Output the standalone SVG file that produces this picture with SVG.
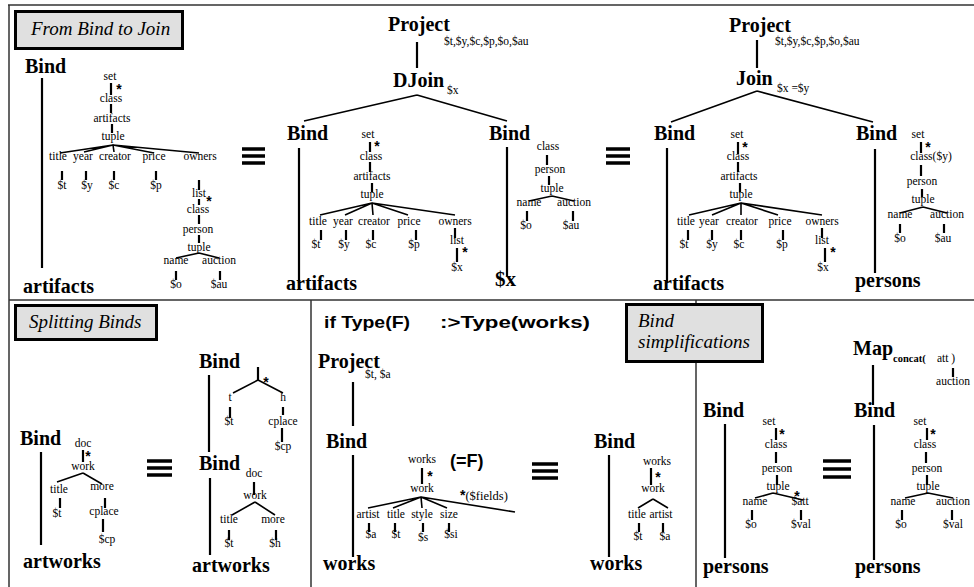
<svg xmlns="http://www.w3.org/2000/svg" width="974" height="587" viewBox="0 0 974 587">
<style>
.op{font-family:"Liberation Serif",serif;font-weight:bold;font-size:20px;fill:#000}
.t{font-family:"Liberation Serif",serif;font-size:11.5px;text-anchor:middle;fill:#000}
.p{font-family:"Liberation Serif",serif;font-size:11.5px;fill:#000}
.st{font-family:"Liberation Sans",sans-serif;font-weight:bold;font-size:14px;text-anchor:middle}
.hd{font-family:"Liberation Serif",serif;font-style:italic;font-size:19px;fill:#000}
.sb{font-family:"Liberation Sans",sans-serif;font-weight:bold;font-size:17px;fill:#000}
.box{fill:#e0e0e0;stroke:#000;stroke-width:3}
.fr{stroke:#333;stroke-width:1.5;fill:none}
.v{stroke:#000;stroke-width:2.2;fill:none}
.s{stroke:#000;stroke-width:1.6;fill:none}
.eq{stroke:#000;stroke-width:3.5}
</style>
<rect width="974" height="587" fill="#fff"/>
<g id="frame">
<path class="fr" d="M8 5H974M9 5V587M9 300H974M311 300V587M696 300V587"/>
</g>
<g id="connectors">
<path class="v" d="M42 78V268"/>
<path class="v" d="M111 83V95M111 104V113M112 124V133"/>
<path class="s" d="M113 145L60 153M113 145L84 152M113 145L114 152M113 145L154 153M113 145L199 153"/>
<path class="v" d="M62 171V180M86 171V180M114 171V180M156 171V180M199 180V190M199 199V205M199 215V224M199 235V243"/>
<path class="s" d="M199 253L176 258M199 253L219 258"/>
<path class="v" d="M176 271V280M220 271V280"/>
<path class="v" d="M417 42V68"/>
<path class="s" d="M417 95L304 121M417 95L507 121"/>
<path class="v" d="M299 148V283M507 147V276"/>
<path class="v" d="M370 142V152M370 162V172M372 183V192"/>
<path class="s" d="M372 203L320 215M372 203L345 215M372 203L373 215M372 203L408 215M372 203L455 215"/>
<path class="v" d="M321 230V240M346 230V240M373 230V240M416 230V240M455 228V238M457 248V262"/>
<path class="v" d="M547 155V165M549 176V185"/>
<path class="s" d="M552 196L529 201M552 196L574 201"/>
<path class="v" d="M527 211V221M573 211V221"/>
<path class="v" d="M757 40V68"/>
<path class="s" d="M757 91L671 122M757 91L873 122"/>
<path class="v" d="M667 148V283M875 149V273"/>
<path class="v" d="M738 142V154M738 162V172M740 183V192"/>
<path class="s" d="M741 203L689 215M741 203L712 215M741 203L741 215M741 203L778 215M741 203L822 215"/>
<path class="v" d="M688 230V240M712 230V240M741 230V240M783 230V240M822 228V238M825 248V262"/>
<path class="v" d="M921 142V153M921 165V176M922 189V197"/>
<path class="s" d="M923 207L900 213M923 207L947 213"/>
<path class="v" d="M900 224V233M944 224V233"/>
<path class="v" d="M41 452V545"/>
<path class="v" d="M83 450V462"/>
<path class="s" d="M83 473L57 482M83 473L102 484"/>
<path class="v" d="M60 498V508M105 498V508M103 519V532"/>
<path class="v" d="M209 375V452M258 367V380"/>
<path class="s" d="M258 380L233 393M258 380L283 393"/>
<path class="v" d="M230 407V418M283 407V415M282 428V442"/>
<path class="v" d="M210 478V555M254 482V495"/>
<path class="s" d="M255 502L232 515M255 502L275 515"/>
<path class="v" d="M229 530V540M276 530V540"/>
<path class="v" d="M353 382V426M353 455V557M422 468V484"/>
<path class="s" d="M421 497L368 508M421 497L393 508M421 497L422 508M421 497L447 508M421 497L515 512"/>
<path class="v" d="M369 523V532M395 523V532M423 523V532M449 523V532"/>
<path class="v" d="M609 455V557M651 468V485"/>
<path class="s" d="M653 499L638 508M653 499L668 508"/>
<path class="v" d="M639 523V532M663 523V532"/>
<path class="v" d="M725 424V558M776 428V440M776 452V463M777 475V485"/>
<path class="s" d="M773 493L755 498M773 493L803 500"/>
<path class="v" d="M752 510V520M801 510V520"/>
<path class="v" d="M873 365V405M953 368V377M874 425V560M927 428V440M926 452V463M927 475V485"/>
<path class="s" d="M928 493L905 498M928 493L953 498"/>
<path class="v" d="M902 510V520M952 510V520"/>
</g>
<g id="equiv">
<path class="eq" d="M242 149H265M242 156H265M242 163H265"/>
<path class="eq" d="M606 149H630M606 156H630M606 163H630"/>
<path class="eq" d="M147 461H172M147 468H172M147 475H172"/>
<path class="eq" d="M532 464H558M532 471H558M532 478H558"/>
<path class="eq" d="M823 461H851M823 469H851M823 477H851"/>
</g>
<g id="title-bind-join">
<rect class="box" x="15.5" y="11.5" width="167" height="37"/>
<text class="hd" x="31" y="35">From Bind to Join</text>
</g>
<g id="p1-bind">
<text class="op" x="25" y="73">Bind</text>
<text class="op" x="23" y="293">artifacts</text>
</g>
<g id="p1-pattern">
<text class="t" x="110" y="80">set</text><text class="st" x="119" y="94">*</text>
<text class="t" x="111" y="102">class</text>
<text class="t" x="112" y="122">artifacts</text>
<text class="t" x="113" y="140">tuple</text>
<text class="t" x="58" y="160">title</text><text class="t" x="83" y="160">year</text><text class="t" x="115" y="160">creator</text><text class="t" x="154" y="160">price</text><text class="t" x="200" y="160">owners</text>
<text class="t" x="62" y="189">$t</text><text class="t" x="87" y="189">$y</text><text class="t" x="114" y="189">$c</text><text class="t" x="156" y="189">$p</text>
<text class="t" x="199" y="197">list</text><text class="st" x="209" y="206">*</text>
<text class="t" x="198" y="213">class</text>
<text class="t" x="198" y="233">person</text>
<text class="t" x="199" y="251">tuple</text>
<text class="t" x="176" y="264">name</text><text class="t" x="219" y="264">auction</text>
<text class="t" x="176" y="288">$o</text><text class="t" x="219" y="288">$au</text>
</g>
<g id="p1-project-dj">
<text class="op" x="388" y="31">Project</text>
<text class="p" x="444" y="45">$t,$y,$c,$p,$o,$au</text>
</g>
<g id="p1-djoin">
<text class="op" x="393" y="87">DJoin</text>
<text class="p" x="447" y="94">$x</text>
</g>
<g id="p1-bind-a">
<text class="op" x="287" y="140">Bind</text>
<text class="op" x="286" y="290">artifacts</text>
<text class="t" x="368" y="138">set</text><text class="st" x="377" y="151">*</text>
<text class="t" x="371" y="160">class</text>
<text class="t" x="372" y="180">artifacts</text>
<text class="t" x="372" y="198">tuple</text>
<text class="t" x="318" y="225">title</text><text class="t" x="343" y="225">year</text><text class="t" x="374" y="225">creator</text><text class="t" x="409" y="225">price</text><text class="t" x="455" y="225">owners</text>
<text class="t" x="316" y="248">$t</text><text class="t" x="344" y="248">$y</text><text class="t" x="371" y="248">$c</text><text class="t" x="414" y="248">$p</text>
<text class="t" x="457" y="244">list</text><text class="st" x="465" y="257">*</text>
<text class="t" x="457" y="271">$x</text>
</g>
<g id="p1-bind-x">
<text class="op" x="489" y="140">Bind</text>
<text class="op" x="495" y="286" style="font-size:21px">$x</text>
<text class="t" x="548" y="150">class</text>
<text class="t" x="550" y="173">person</text>
<text class="t" x="552" y="192">tuple</text>
<text class="t" x="529" y="206">name</text><text class="t" x="574" y="206">auction</text>
<text class="t" x="526" y="229">$o</text><text class="t" x="571" y="229">$au</text>
</g>
<g id="p1-project-j">
<text class="op" x="729" y="32">Project</text>
<text class="p" x="775" y="45">$t,$y,$c,$p,$o,$au</text>
</g>
<g id="p1-join">
<text class="op" x="736" y="85">Join</text>
<text class="p" x="777" y="92">$x =$y</text>
</g>
<g id="p1-bind-b">
<text class="op" x="654" y="140">Bind</text>
<text class="op" x="653" y="290">artifacts</text>
<text class="t" x="737" y="138">set</text><text class="st" x="745" y="152">*</text>
<text class="t" x="738" y="160">class</text>
<text class="t" x="739" y="180">artifacts</text>
<text class="t" x="741" y="198">tuple</text>
<text class="t" x="686" y="225">title</text><text class="t" x="709" y="225">year</text><text class="t" x="742" y="225">creator</text><text class="t" x="780" y="225">price</text><text class="t" x="822" y="225">owners</text>
<text class="t" x="684" y="248">$t</text><text class="t" x="712" y="248">$y</text><text class="t" x="739" y="248">$c</text><text class="t" x="782" y="248">$p</text>
<text class="t" x="822" y="244">list</text><text class="st" x="833" y="257">*</text>
<text class="t" x="823" y="271">$x</text>
</g>
<g id="p1-bind-p">
<text class="op" x="856" y="140">Bind</text>
<text class="op" x="855" y="287">persons</text>
<text class="t" x="918" y="138">set</text><text class="st" x="928" y="152">*</text>
<text class="t" x="931" y="160">class($y)</text>
<text class="t" x="922" y="185">person</text>
<text class="t" x="923" y="203">tuple</text>
<text class="t" x="900" y="218">name</text><text class="t" x="947" y="218">auction</text>
<text class="t" x="900" y="242">$o</text><text class="t" x="943" y="242">$au</text>
</g>
<g id="title-split">
<rect class="box" x="15.5" y="305.5" width="141" height="34"/>
<text class="hd" x="29" y="328">Splitting Binds</text>
</g>
<g id="p2-bind">
<text class="op" x="20" y="445">Bind</text>
<text class="op" x="23" y="568">artworks</text>
<text class="t" x="83" y="447">doc</text><text class="st" x="88" y="461">*</text>
<text class="t" x="83" y="470">work</text>
<text class="t" x="59" y="493">title</text><text class="t" x="102" y="490">more</text>
<text class="t" x="57" y="517">$t</text>
<text class="t" x="104" y="515">cplace</text>
<text class="t" x="107" y="543">$cp</text>
</g>
<g id="p2-bind-top">
<text class="op" x="199" y="368">Bind</text>
<text class="st" x="266" y="387">*</text>
<text class="t" x="230" y="401">t</text><text class="t" x="283" y="401">h</text>
<text class="t" x="229" y="425">$t</text><text class="t" x="283" y="425">cplace</text>
<text class="t" x="283" y="450">$cp</text>
</g>
<g id="p2-bind-bottom">
<text class="op" x="199" y="470">Bind</text>
<text class="op" x="192" y="572">artworks</text>
<text class="t" x="254" y="477">doc</text>
<text class="t" x="255" y="499">work</text>
<text class="t" x="229" y="523">title</text><text class="t" x="273" y="523">more</text>
<text class="t" x="229" y="547">$t</text><text class="t" x="275" y="547">$h</text>
</g>
<g id="p3-cond">
<text class="sb" x="324" y="328" textLength="86" lengthAdjust="spacingAndGlyphs">if Type(F)</text>
<text class="sb" x="440" y="328" textLength="150" lengthAdjust="spacingAndGlyphs">:&gt;Type(works)</text>
</g>
<g id="p3-project">
<text class="op" x="318" y="368">Project</text>
<text class="p" x="365" y="378">$t, $a</text>
</g>
<g id="p3-bind">
<text class="op" x="326" y="448">Bind</text>
<text class="op" x="323" y="570">works</text>
<text class="t" x="422" y="463">works</text><text class="st" x="430" y="481">*</text>
<text class="sb" x="450" y="467" style="font-size:18px">(=F)</text>
<text class="t" x="422" y="492">work</text>
<text class="p" x="460" y="500" style="font-size:12.5px"><tspan class="st" style="text-anchor:start">*</tspan>($fields)</text>
<text class="t" x="368" y="518">artist</text><text class="t" x="396" y="518">title</text><text class="t" x="422" y="518">style</text><text class="t" x="449" y="518">size</text>
<text class="t" x="371" y="538">$a</text><text class="t" x="396" y="538">$t</text><text class="t" x="423" y="541">$s</text><text class="t" x="451" y="538">$si</text>
</g>
<g id="p3-bind-r">
<text class="op" x="594" y="448">Bind</text>
<text class="op" x="590" y="570">works</text>
<text class="t" x="657" y="465">works</text><text class="st" x="658" y="482">*</text>
<text class="t" x="653" y="492">work</text>
<text class="t" x="637" y="518">title</text><text class="t" x="661" y="518">artist</text>
<text class="t" x="638" y="540">$t</text><text class="t" x="665" y="540">$a</text>
</g>
<g id="title-simpl">
<rect class="box" x="626.5" y="304.5" width="136" height="57"/>
<text class="hd" x="638" y="327">Bind</text>
<text class="hd" x="638" y="348">simplifications</text>
</g>
<g id="p4-bind">
<text class="op" x="703" y="417">Bind</text>
<text class="op" x="703" y="573">persons</text>
<text class="t" x="769" y="425">set</text><text class="st" x="782" y="439">*</text>
<text class="t" x="776" y="448">class</text>
<text class="t" x="777" y="472">person</text>
<text class="t" x="778" y="490">tuple</text><text class="st" x="797" y="501">*</text>
<text class="t" x="755" y="505">name</text><text class="t" x="800" y="505">$att</text>
<text class="t" x="751" y="528">$o</text><text class="t" x="801" y="528">$val</text>
</g>
<g id="p4-map">
<text class="op" x="853" y="355">Map</text>
<text class="p" x="893" y="362" style="font-weight:bold;font-size:10.5px">concat(</text>
<text class="p" x="937" y="362">att )</text>
<text class="t" x="953" y="385">auction</text>
</g>
<g id="p4-bind-r">
<text class="op" x="854" y="417">Bind</text>
<text class="op" x="855" y="573">persons</text>
<text class="t" x="920" y="425">set</text><text class="st" x="933" y="439">*</text>
<text class="t" x="925" y="448">class</text>
<text class="t" x="927" y="472">person</text>
<text class="t" x="928" y="490">tuple</text>
<text class="t" x="903" y="505">name</text><text class="t" x="953" y="505">auction</text>
<text class="t" x="901" y="528">$o</text><text class="t" x="953" y="528">$val</text>
</g>
</svg>
